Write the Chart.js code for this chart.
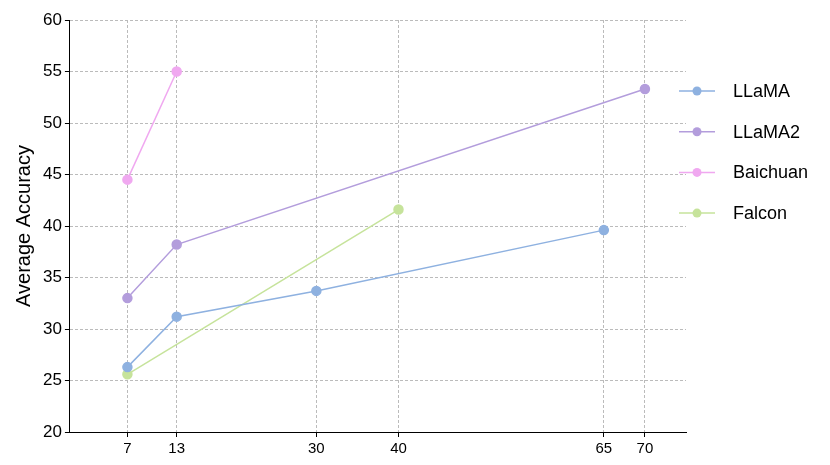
<!DOCTYPE html>
<html><head><script src="https://cdn.jsdelivr.net/npm/chart.js@4"></script>
<style>body{margin:0;background:#fff}</style></head>
<body><canvas id="c" width="830" height="465"></canvas>
<script>
const xTicks=[7,13,30,40,65,70];
const llamaX=[7,13,30,65], llamaY=[26.3,31.2,33.7,39.6];
const llama2X=[7,13,70], llama2Y=[33.0,38.2,53.3];
const baichuanX=[7,13], baichuanY=[44.5,55.0];
const falconX=[7,40], falconY=[25.6,41.6];
const names=['LLaMA','LLaMA2','Baichuan','Falcon'];
const colors=['#8eb1e0','#b39ddc','#f0a8f0','#c6e39b'];
const xs=[llamaX,llama2X,baichuanX,falconX], ys=[llamaY,llama2Y,baichuanY,falconY];
const F='"Liberation Sans", Arial, sans-serif';
const legendPlugin={id:'lg',afterDraw(ch){const c=ch.ctx;c.save();
names.forEach((n,i)=>{const y=91+i*40.7;c.strokeStyle=colors[i];c.lineWidth=1.5;c.beginPath();c.moveTo(679,y);c.lineTo(715,y);c.stroke();
c.fillStyle=colors[i];c.beginPath();c.arc(697,y,4.5,0,Math.PI*2);c.fill();
c.fillStyle='#000';c.font='18px '+F;c.textBaseline='middle';c.fillText(n,733,y+1);});c.restore();}};
new Chart(document.getElementById('c'),{type:'line',
data:{datasets:names.map((n,i)=>({label:n,data:xs[i].map((x,j)=>({x,y:ys[i][j]})),borderColor:colors[i],backgroundColor:colors[i],borderWidth:1.5,pointRadius:4.5,pointHoverRadius:4.5}))},
options:{responsive:false,animation:false,
layout:{padding:{left:8,right:144,top:20,bottom:4}},
plugins:{legend:{display:false},tooltip:{enabled:false}},
scales:{
x:{type:'linear',min:0,max:75,afterBuildTicks:a=>{a.ticks=xTicks.map(v=>({value:v}))},
ticks:{color:'#000',font:{size:15,family:F},autoSkip:false,maxRotation:0},
grid:{color:'#bbb',tickColor:'#000',tickLength:5},border:{color:'#000',dash:[3,2],width:1}},
y:{min:20,max:60,ticks:{stepSize:5,color:'#000',font:{size:17,family:F}},
grid:{color:'#bbb',tickColor:'#000',tickLength:5},border:{color:'#000',dash:[3,2]},
title:{display:true,text:'Average Accuracy',color:'#000',font:{size:20,family:F}}}}},
plugins:[legendPlugin]});
</script></body></html>
